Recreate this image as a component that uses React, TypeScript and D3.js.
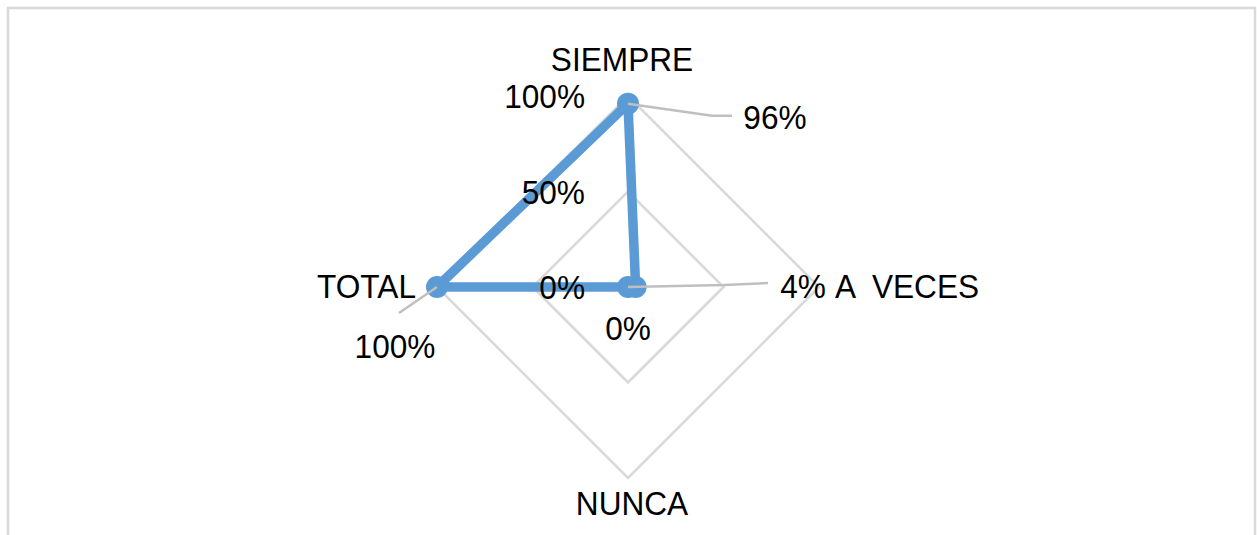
import React, { useRef, useEffect } from 'react';
import * as d3 from 'd3';

const categories = ['SIEMPRE', 'A  VECES', 'NUNCA', 'TOTAL'];
const values = [0.96, 0.04, 0, 1];
const valueLabels = ['96%', '4%', '0%', '100%'];
const gridLevels = [0, 0.5, 1];
const gridLabels = ['0%', '50%', '100%'];

const W = 1257;
const H = 535;

const App = () => {
  const ref = useRef<SVGSVGElement>(null);

  useEffect(() => {
    const svg = d3.select(ref.current);
    svg.selectAll('*').remove();

    const font = '"Liberation Sans", Arial, sans-serif';
    const fs = 34;
    const sx = 0.93; // narrow the glyphs a little, like Calibri
    const cx = 628;
    const cy = 287;

    // chart frame (bottom runs off the page)
    svg.append('rect')
      .attr('x', 8).attr('y', 8)
      .attr('width', 1247).attr('height', 600)
      .attr('fill', '#fff')
      .attr('stroke', '#d9d9d9')
      .attr('stroke-width', 2.5);

    const r = d3.scaleLinear().domain([0, 1]).range([0, 191]);
    const angle = (i: number) => (i * 2 * Math.PI) / categories.length;
    const pt = (i: number, v: number): [number, number] => [
      cx + r(v) * Math.sin(angle(i)),
      cy - r(v) * Math.cos(angle(i)),
    ];

    const g = svg.append('g');

    const addText = (sel: any, pos: any[], cls: string) =>
      sel.enter()
        .append('text')
        .attr('class', cls)
        .attr('transform', (d: any, i: number) => `translate(${pos[i].x},${pos[i].y}) scale(${sx},1)`)
        .attr('text-anchor', (d: any, i: number) => pos[i].anchor)
        .attr('font-family', font)
        .attr('font-size', fs)
        .attr('fill', '#000')
        .style('white-space', 'pre')
        .text((d: any) => d);

    // grid diamonds
    const closed = d3.line().curve(d3.curveLinearClosed);
    g.selectAll('path.grid')
      .data(gridLevels.filter(d => d > 0))
      .enter()
      .append('path')
      .attr('class', 'grid')
      .attr('d', d => closed(categories.map((_, i) => pt(i, d))))
      .attr('fill', 'none')
      .attr('stroke', '#d9d9d9')
      .attr('stroke-width', 2.5);

    // series
    const pts = values.map((v, i) => pt(i, v));
    g.append('path')
      .attr('d', closed(pts))
      .attr('fill', 'none')
      .attr('stroke', '#5b9bd5')
      .attr('stroke-width', 9.5)
      .attr('stroke-linejoin', 'round');

    g.selectAll('circle')
      .data(pts)
      .enter()
      .append('circle')
      .attr('cx', d => d[0])
      .attr('cy', d => d[1])
      .attr('r', 11)
      .attr('fill', '#5b9bd5');

    // leader lines for data labels
    const leaders: [number, number][][] = [
      [pt(0, values[0]), [cx + 84, cy - r(values[0]) + 12], [cx + 104, cy - r(values[0]) + 12]],
      [pt(1, 0), [cx + 96, cy - 2], [cx + 140, cy - 4]],
      [pt(3, values[3]), [cx - r(1) - 38, cy + 26]],
    ];
    g.selectAll('path.leader')
      .data(leaders)
      .enter()
      .append('path')
      .attr('class', 'leader')
      .attr('d', d => d3.line()(d))
      .attr('fill', 'none')
      .attr('stroke', '#bfbfbf')
      .attr('stroke-width', 2.5);

    // value axis labels (drawn over the series)
    const tickPos = gridLevels.map(d => ({ x: cx - 43, y: cy - r(d) + 12, anchor: 'end' }));
    addText(g.selectAll('text.tick').data(gridLabels), tickPos, 'tick');

    // category labels
    const catPos = [
      { x: cx - 6, y: cy - r(1) - 25, anchor: 'middle' },
      { x: cx + r(1) + 16, y: cy + 11, anchor: 'start' },
      { x: cx + 4, y: cy + r(1) + 37, anchor: 'middle' },
      { x: cx - r(1) - 21, y: cy + 11, anchor: 'end' },
    ];
    addText(g.selectAll('text.cat').data(categories), catPos, 'cat');

    // data labels
    const lblPos = [
      { x: cx + 147, y: cy - r(values[0]) + 25, anchor: 'middle' },
      { x: cx + 175, y: cy + 11, anchor: 'middle' },
      { x: cx, y: cy + 53, anchor: 'middle' },
      { x: cx - r(1) - 42, y: cy + 71, anchor: 'middle' },
    ];
    addText(g.selectAll('text.val').data(valueLabels), lblPos, 'val');
  }, []);

  return (
    <svg
      ref={ref}
      width={W}
      height={H}
      style={{ position: 'absolute', left: 0, top: 0, background: '#fff' }}
    />
  );
};

export default App;
